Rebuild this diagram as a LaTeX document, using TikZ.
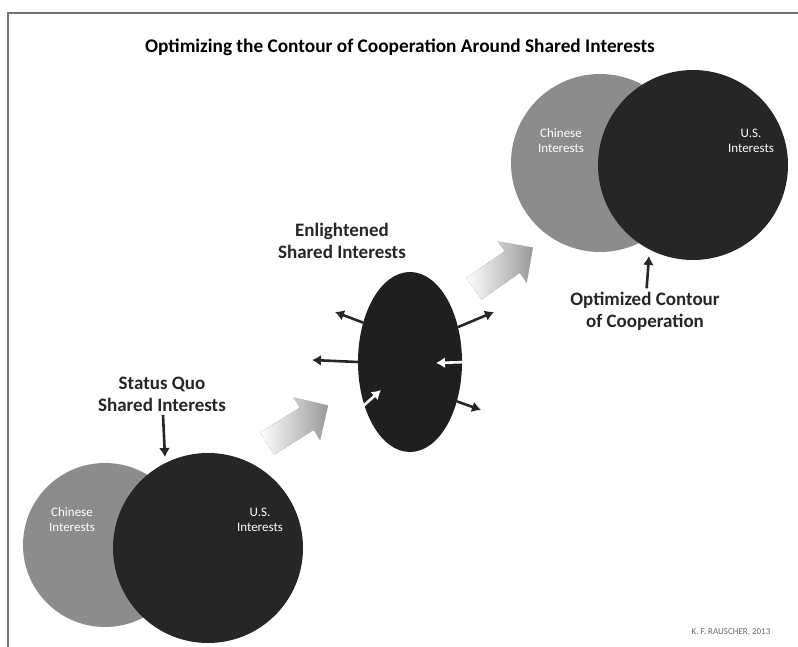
\documentclass[tikz,border=0pt]{standalone}
\usepackage{fontspec}
\setmainfont{Carlito}
\usetikzlibrary{arrows.meta, shapes, positioning}
\tikzset{> = { Latex[length = 9pt, width = 11pt] }}

\begin{document}
\begin{tikzpicture}[x = 1pt, y = -1pt,
		blob/.style = { circle, inner sep = 0pt },
		lbl/.style = { align = center, text = black!85, font = \bfseries\fontsize{19}{22}\selectfont },
		inlbl/.style = { align = center, text = white, font = \fontsize{13}{15}\selectfont },
		bigarrow/.style = { single arrow, draw = black!45, densely dotted, left color = white, right color = black!40,
			minimum height = 72pt, inner xsep = 0pt, inner ysep = 13pt, text height = 0pt, text depth = 0pt,
			single arrow head extend = 12pt },
		push/.style = { ->, line width = 2.6pt, black!85 },
		pull/.style = { ->, line width = 2.6pt, white }]
		\useasboundingbox (0,0) rectangle (798,647);
		\draw [black!55, line width = 1.3pt] (8,647) -- (8,13) -- (798,13);

		\node [font = \bfseries\fontsize{19.3}{22}\selectfont] (title) at (400,47) {Optimizing the Contour of Cooperation Around Shared Interests};

		% status quo
		\node [blob, fill = black!45, minimum size = 164pt] (cn1) at (105,545) {};
		\node [blob, fill = black!85, minimum size = 190pt] (us1) at (208,548) {};
		\node [inlbl] (cn1t) at (72,520) {Chinese\\Interests};
		\node [inlbl] (us1t) at (260,520) {U.S.\\Interests};
		\node [lbl] (sq) at (162,394) {Status Quo\\Shared Interests};
		\coordinate (sqtip) at (165,457);
		\draw [push] (sq) -- (sqtip);

		% enlightened
		\node [lbl] (esit) at (342,241) {Enlightened\\Shared Interests};
		\node [ellipse, inner sep = 0pt, fill = black!88, minimum width = 104pt, minimum height = 180pt] (esi) at (410,362) {};
		\coordinate (a1) at (335,312);
		\coordinate (a2) at (312,360);
		\coordinate (a3) at (494,312);
		\coordinate (a4) at (481,410);
		\draw [push] (esi.140) -- (a1);
		\draw [push] (esi.180) -- (a2);
		\draw [push] (esi.36) -- (a3);
		\draw [push] (esi.-40) -- (a4);
		\coordinate (w1) at (467,362);
		\coordinate (w1h) at (436,363);
		\coordinate (w2) at (361,408);
		\coordinate (w2h) at (381,390);
		\draw [pull] (w1) -- (w1h);
		\draw [pull] (w2) -- (w2h);

		% optimized
		\node [blob, fill = black!45, minimum size = 178pt] (cn2) at (600,163) {};
		\node [blob, fill = black!85, minimum size = 190pt] (us2) at (693,165) {};
		\node [inlbl] (cn2t) at (561,141) {Chinese\\Interests};
		\node [inlbl] (us2t) at (751,141) {U.S.\\Interests};
		\node [lbl] (oc) at (645,311) {Optimized Contour\\of Cooperation};
		\coordinate (octip) at (649,256);
		\draw [push] (oc) -- (octip);

		% moves
		\node [bigarrow, rotate = 32] (go1) at (292,428) {};
		\node [bigarrow, rotate = 35] (go2) at (498,272) {};

		\node [text = black!60, font = \fontsize{9}{10}\selectfont] (kfr) at (731,632) {K. F. RAUSCHER, 2013};
	\end{tikzpicture}
\end{document}
